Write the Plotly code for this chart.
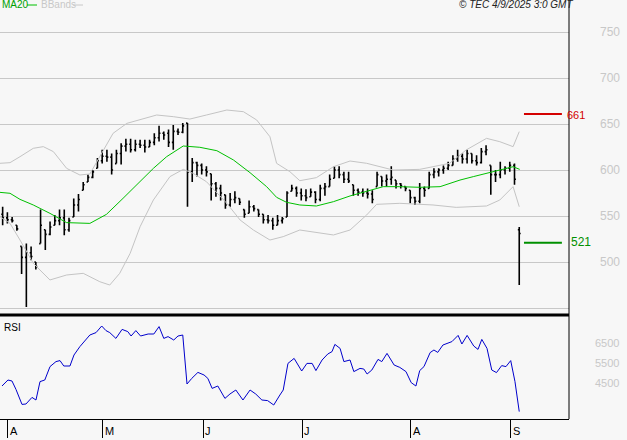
import plotly.graph_objects as go

W, H = 627, 440
# ---- data (bar index, prices) ----
high = [560,554,549,540,517,520,517,500,557,535,544,551,557,557,548,569,574,587,595,600,613,622,622,618,622,629,634,634,633,633,633,633,640,648,642,644,649,645,651,651,
        613,609,607,604,596,587,584,573,575,577,569,557,567,562,557,552,551,548,551,549,577,584,582,580,579,580,577,584,586,595,604,604,598,598,584,580,580,580,578,598,
        593,595,604,589,586,582,578,571,586,582,598,602,602,605,609,616,622,618,622,618,616,624,627,605,600,609,604,609,607,538]
low = [540,542,543,534,487,451,502,492,520,513,529,540,540,529,533,549,555,578,587,591,602,607,609,595,607,606,620,619,620,624,619,625,627,631,633,625,622,638,640,560,
       587,593,595,593,567,571,567,558,560,564,562,548,553,555,549,542,542,535,540,542,549,577,571,567,566,571,564,566,572,582,591,591,586,586,572,572,571,569,564,582,
       582,582,584,580,580,577,564,562,564,571,580,591,593,596,600,605,609,607,607,607,605,607,616,573,587,591,595,598,584,475]
close = [548,546,545,536,505,510,506,495,540,530,538,545,548,535,545,562,568,584,592,598,610,615,614,600,618,626,628,622,628,627,625,630,635,640,638,630,642,641,648,598,
         608,605,600,598,585,580,575,562,568,570,565,552,560,558,552,546,545,540,545,547,575,580,575,572,570,576,568,580,582,590,600,595,590,588,578,576,575,574,568,595,
         588,590,592,585,583,580,570,566,580,578,595,598,600,602,605,612,615,612,618,610,608,620,622,595,595,600,602,605,590,531]
open_ = [552,548,546,540,517,505,510,500,520,535,530,540,545,548,535,549,562,578,587,592,602,610,615,614,607,618,626,628,622,628,627,625,630,635,640,640,630,642,641,651,
         598,608,605,600,596,585,580,573,562,568,569,557,553,560,557,552,546,545,540,545,549,577,580,575,572,571,576,568,580,582,591,600,595,590,584,578,576,575,574,582,
         593,588,590,589,585,582,578,570,566,580,580,595,598,600,602,605,612,615,612,618,610,608,620,605,595,595,600,602,605,535]
bars = list(range(len(close)))

ma_x = [-0.56,1.55,3.66,6.46,9.98,13.5,18.4,21.9,25.4,29.0,31.8,34.6,38.1,41.6,45.2,48.7,52.2,55.7,57.8,59.9,62.7,66.2,69.8,73.3,76.8,80.3,83.8,88.0,92.3,96.5,99.3,102.8,105.6,107.7,109.1]
ma_y = [575.7,574.7,568.1,562,552.9,542.8,542,551.8,569.2,587.3,601.8,614.5,626.1,624.7,621,610.9,597.1,581.9,570.3,564.9,562,560.9,565.6,571.8,576.5,581.9,581.9,581.2,581.9,589.1,592.8,597.1,600.7,603.6,600.7]
up_x = [-0.56,1.55,3.66,6.46,8.58,10.7,13.5,16.3,18.4,20.5,23.3,26.2,29.0,32.5,36.0,39.5,43.0,47.3,50.8,53.6,56.4,57.8,60.6,62.7,66.2,69.8,73.3,76.8,82.4,88.0,90.8,94.3,97.8,102.1,104.9,107.7,109.0]
up_y = [607.3,608,614.5,623.6,625.4,620,601.8,594.6,595.7,614.5,639.9,650.7,655.1,659.8,658,655.4,659.8,665.2,663.4,654.4,636.2,607.3,598.2,588.4,591.7,603.6,609.8,607.3,600,600.7,603.6,607.3,621.8,634.4,630.8,625.4,641.7]
lo_x = [-0.56,1.55,3.66,6.46,9.98,13.5,17.0,20.5,22.6,24.7,26.9,29.0,31.8,35.3,38.1,40.2,43.0,47.3,50.1,52.9,56.4,59.2,62.7,69.8,73.3,76.8,78.9,83.8,90.8,95.7,102.1,104.9,107.7,109.0]
lo_y = [549.3,542,523.9,498.6,480.5,485.9,487.7,478.6,475,487.7,509.4,538.4,567.4,592.8,600.7,596.4,587.3,563.8,545.7,534.8,523.9,527.6,534.8,529.4,534.8,551.1,562.7,563.8,562,559.4,560.9,567.4,581.9,560.1]

rsi_x = [-0.14,1.12,1.97,2.81,4.08,4.92,6.19,7.03,7.88,8.89,9.99,11.25,12.1,12.9,14.2,15.05,16.3,17.2,18.4,19.7,20.9,21.8,22.6,23.9,25.2,26.4,27.1,28.1,29.1,30.7,31.9,33.0,34.0,34.9,36.1,37.0,38.0,38.9,39.9,41.2,42.5,43.3,44.2,45.4,46.9,47.96,49.2,50.7,52.2,53.4,54.7,55.9,57.2,58.5,59.2,60.2,61.5,63.1,64.2,65.3,66.1,67.4,68.6,69.5,70.1,71.2,72.0,73.3,74.1,75.4,76.2,76.9,77.9,79.2,80.0,81.1,82.6,83.8,85.1,86.2,87.2,88.0,88.9,90.2,91.0,91.8,92.9,94.8,96.1,96.9,98.0,99.4,100.3,101.1,102.2,103.2,104.2,105.3,106.2,107.2,108.1,109.0]
rsi_y = [43.5,46.5,46,41.8,34.3,34.5,37.8,36.5,45.7,46.5,53.2,55.7,56.2,53.5,53.5,59,63.2,65.7,69,70.2,73.5,71.2,70.2,67.3,71.8,70.7,68.5,71.2,68.5,69.5,69.5,73.2,67.3,68.2,66.5,68.5,69,44.5,47.3,50.3,49,47.3,42.3,43.5,37.3,39.5,41.5,36.5,41.5,39.5,36.5,36.2,34,39,41.5,54.8,57.3,51,54.8,54.8,51.2,56.5,59.5,60.7,64.3,62.3,55.7,56.5,50.7,52.3,52,49.5,51.5,56.8,55.7,59.8,54,52.8,50.7,45.2,43.5,51.2,53.2,60.2,61.5,60.3,64,65.7,68.8,64.5,68.8,63.5,61.8,66.8,62.3,51.5,50.2,53.7,53.2,56.2,45.7,30.7]

month_pos = [1.12,21.1,42.3,63.2,86.1,107.2]
month_lbl = ["A","M","J","J","A","S"]
price_ticks = [450,500,550,600,650,700,750]
price_lbls = ["","500","550","600","650","700","750"]
rsi_ticks = [45,55,65]
rsi_lbls = ["4500","5500","6500"]
target_hi, target_lo = 661, 521

XR = [-0.56, 119.5]
xd = [0, 569/W]
main_dom = [1-314/H, 1.0]
rsi_dom = [1-419/H, 1-316/H]

fig = go.Figure()
fig.add_trace(go.Scatter(x=up_x, y=up_y, mode="lines", line=dict(color="#c4c4c4", width=1), hoverinfo="skip"))
fig.add_trace(go.Scatter(x=lo_x, y=lo_y, mode="lines", line=dict(color="#c4c4c4", width=1), hoverinfo="skip"))
fig.add_trace(go.Scatter(x=ma_x, y=ma_y, mode="lines", line=dict(color="#00c000", width=1), hoverinfo="skip"))
fig.add_trace(go.Ohlc(x=bars, open=open_, high=high, low=low, close=close, tickwidth=0.3,
                      increasing=dict(line=dict(color="black", width=1.6)),
                      decreasing=dict(line=dict(color="black", width=1.6))))
fig.add_trace(go.Scatter(x=[110.0, 118.0], y=[target_hi]*2, mode="lines", line=dict(color="#d40000", width=2)))
fig.add_trace(go.Scatter(x=[110.0, 118.0], y=[target_lo]*2, mode="lines", line=dict(color="#009000", width=2)))
fig.add_trace(go.Scatter(x=rsi_x, y=rsi_y, mode="lines", line=dict(color="#0000cc", width=1), xaxis="x2", yaxis="y2"))

gray = "#c8c8c8"
fig.update_layout(
    width=W, height=H, margin=dict(l=0, r=0, t=0, b=0), showlegend=False,
    paper_bgcolor="#f7f7f7", plot_bgcolor="#f7f7f7",
    font=dict(family="Liberation Sans", size=11),
    xaxis=dict(domain=xd, range=XR, showticklabels=False, showgrid=False, zeroline=False,
               rangeslider=dict(visible=False), fixedrange=True),
    yaxis=dict(domain=main_dom, range=[443.5, 784.8], side="right", tickvals=price_ticks, ticktext=price_lbls,
               showgrid=True, gridcolor=gray, gridwidth=1, zeroline=False, ticks="",
               tickfont=dict(color=gray, size=12), ticklabelstandoff=30),
    xaxis2=dict(domain=xd, range=XR, anchor="y2", tickvals=month_pos, ticktext=[""]*6, ticks="outside",
                ticklen=18, tickcolor="black", tickwidth=1, showgrid=False, zeroline=False,
                showline=True, linecolor="black", linewidth=1),
    yaxis2=dict(domain=rsi_dom, range=[27, 78.5], side="right", tickvals=rsi_ticks, ticktext=rsi_lbls,
                showgrid=False, zeroline=False, ticks="", tickfont=dict(color=gray, size=11), ticklabelstandoff=25),
)
shapes = [
    dict(type="line", xref="paper", yref="paper", x0=0, x1=569/W, y0=1-315/H, y1=1-315/H, line=dict(color="black", width=3)),
    dict(type="line", xref="paper", yref="paper", x0=569/W, x1=569/W, y0=1-419/H, y1=1, line=dict(color="black", width=1)),
    dict(type="line", xref="paper", yref="paper", x0=27/W, x1=37/W, y0=1-5/H, y1=1-5/H, line=dict(color="#00c000", width=1)),
    dict(type="line", xref="paper", yref="paper", x0=73/W, x1=83/W, y0=1-5/H, y1=1-5/H, line=dict(color=gray, width=1)),
]
fig.update_layout(shapes=shapes)
ann = [
    dict(text="MA20", x=0, y=1-5/H, xanchor="left", font=dict(color="#00a000", size=10)),
    dict(text="BBands", x=39/W, y=1-5/H, xanchor="left", font=dict(color=gray, size=10)),
    dict(text="<i>© TEC 4/9/2025 3:0 GMT</i>", x=575/W, y=1-5/H, xanchor="right", font=dict(color="#222", size=10)),
    dict(text="RSI", x=2/W, y=1-327/H, xanchor="left", font=dict(color="black", size=10)),
    dict(text="661", x=565/W, y=1-115/H, xanchor="left", font=dict(color="#d40000", size=11)),
    dict(text="521", x=569/W, y=1-242/H, xanchor="left", font=dict(color="#009000", size=12)),
]
for a in ann:
    a.update(xref="paper", yref="paper", yanchor="middle", showarrow=False)
for p, l in zip(month_pos, month_lbl):
    ann.append(dict(text=l, x=p, xref="x2", y=1-431/H, yref="paper", xanchor="left", yanchor="middle",
                    xshift=0, showarrow=False, font=dict(color="black", size=11)))
fig.update_layout(annotations=ann)
fig.write_html("out.html", config={"displayModeBar": False})
with open("out.html") as f:
    html = f.read()
html = html.replace("<head>", "<head><style>html,body{margin:0;padding:0;overflow:hidden;}</style>", 1)
with open("out.html", "w") as f:
    f.write(html)
